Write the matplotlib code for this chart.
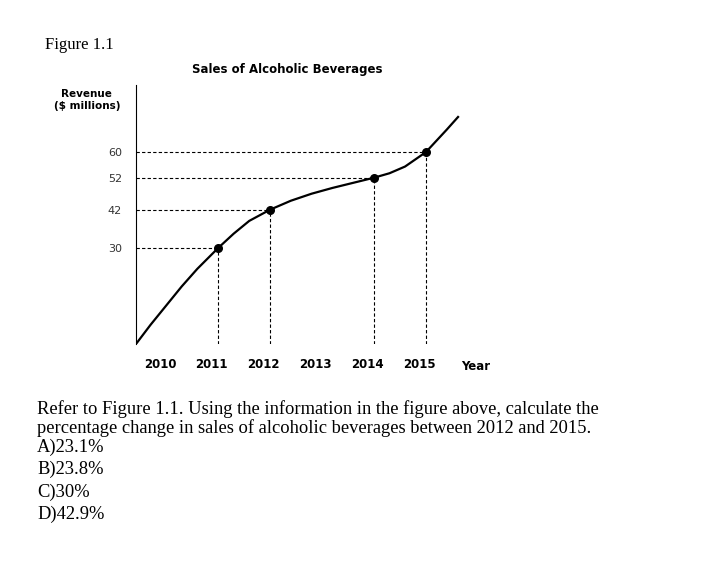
import matplotlib
matplotlib.use("Agg")
import matplotlib.pyplot as plt

years = [2010, 2011, 2012, 2013, 2014, 2015]
tick_labels = ["2010", "2011", "2012", "2013", "2014", "2015"]
y_ticks = [30, 42, 52, 60]
point_x = [2011, 2012, 2014, 2015]
point_y = [30, 42, 52, 60]
curve_x = [2009.42, 2009.7, 2010.0, 2010.3, 2010.6, 2011.0, 2011.3, 2011.6, 2012.0, 2012.4,
           2012.8, 2013.2, 2013.6, 2014.0, 2014.3, 2014.6, 2015.0, 2015.2, 2015.4, 2015.62]
curve_y = [0, 6, 12, 18, 23.5, 30, 34.5, 38.5, 42, 44.8,
           47, 48.8, 50.4, 52, 53.4, 55.5, 60, 63.5, 67, 71]
question = ["Refer to Figure 1.1. Using the information in the figure above, calculate the",
            "percentage change in sales of alcoholic beverages between 2012 and 2015."]
options = ["A)23.1%", "B)23.8%", "C)30%", "D)42.9%"]

fig = plt.figure(figsize=(7.2, 5.75), dpi=100)
ax = fig.add_axes([136/720, 1-344/575, (470-136)/720, (344-85)/575])
ax.set_xlim(2009.42, 2015.85)
ax.set_ylim(0, 81)
ax.plot(curve_x, curve_y, color="black", lw=1.6)
for px, py in zip(point_x, point_y):
    ax.plot([2009.42, px], [py, py], ls=(0, (3, 2)), color="black", lw=0.8)
    ax.plot([px, px], [0, py], ls=(0, (3, 2)), color="black", lw=0.8)
ax.scatter(point_x, point_y, color="black", s=30, zorder=3)
ax.spines["top"].set_visible(False)
ax.spines["right"].set_visible(False)
ax.spines["bottom"].set_visible(False)
ax.set_yticks(y_ticks)
ax.set_yticklabels([str(v) for v in y_ticks], fontsize=8, color="#333")
ax.set_xticks([y - 0.12 for y in years])
ax.set_xticklabels(tick_labels, fontsize=8.5, fontweight="bold")
ax.tick_params(axis="both", length=0, pad=10)
ax.text(476/720, 1-366/575, "Year", transform=fig.transFigure, fontsize=8.5, fontweight="bold", ha="center", va="center")

fig.text(45/720, 1-45/575, "Figure 1.1", family="Liberation Serif", fontsize=12, va="center")
fig.text(287/720, 1-70/575, "Sales of Alcoholic Beverages", fontsize=8.5, fontweight="bold", ha="center", va="center")
fig.text(120/720, 1-100/575, "Revenue\n($ millions)", fontsize=7.5, fontweight="bold", ha="right", va="center", multialignment="center")
for i, q in enumerate(question):
    fig.text(37/720, 1-(409+19*i)/575, q, family="Liberation Serif", fontsize=13.3, va="center")
for i, o in enumerate(options):
    fig.text(37/720, 1-(447+22.5*i)/575, o, family="Liberation Serif", fontsize=13.3, va="center")
fig.savefig("out.png", dpi=100)
